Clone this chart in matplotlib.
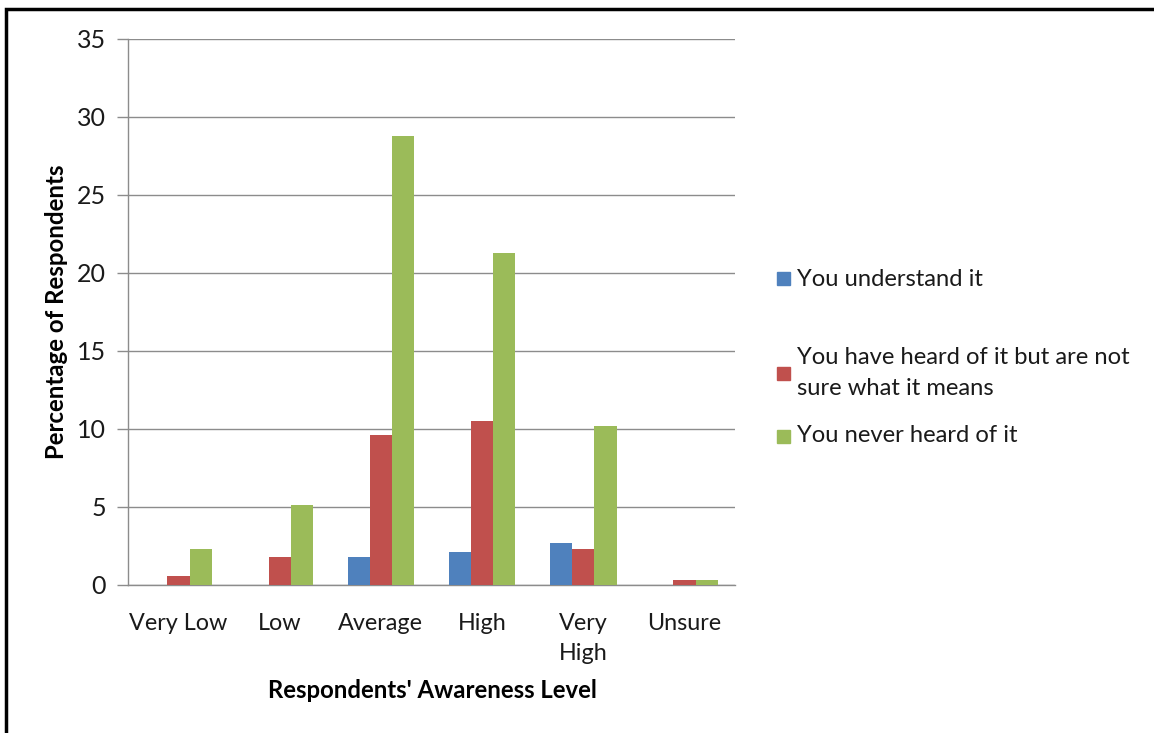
import numpy as np
import matplotlib.pyplot as plt
from matplotlib.patches import Rectangle

plt.rcParams['font.family'] = ['Lato', 'DejaVu Sans']

categories = ['Very Low', 'Low', 'Average', 'High', 'Very\nHigh', 'Unsure']
series_names = ['You understand it',
                'You have heard of it but are not\nsure what it means',
                'You never heard of it']
understand = [0.0, 0.0, 1.8, 2.1, 2.7, 0.0]
heard_not_sure = [0.6, 1.8, 9.6, 10.5, 2.3, 0.3]
never_heard = [2.3, 5.1, 28.8, 21.3, 10.2, 0.3]
colors = ['#4F81BD', '#C0504D', '#9BBB59']

W, H = 1154, 733
fig = plt.figure(figsize=(W / 100, H / 100), dpi=100)
ax = fig.add_axes([128 / W, 1 - 585 / H, (735 - 128) / W, (585 - 39) / H])

x = np.arange(len(categories))
width = 0.22
for i, (vals, c) in enumerate(zip([understand, heard_not_sure, never_heard], colors)):
    ax.bar(x + (i - 1) * width, vals, width, color=c, zorder=3)

ax.set_xlim(-0.5, len(categories) - 0.5)
ax.set_ylim(0, 35)
ax.set_yticks(range(0, 36, 5))
ax.yaxis.grid(True, color='#8c8c8c', linewidth=1.0, zorder=0)
ax.set_xticks(x)
ax.set_xticklabels(categories, fontsize=16.8, color='#1a1a1a', linespacing=1.55)
ax.tick_params(axis='x', length=0, pad=20)
ax.tick_params(axis='y', length=8, width=1, color='#8c8c8c', pad=8,
               labelsize=18, labelcolor='#1a1a1a')
for s in ['top', 'right']:
    ax.spines[s].set_visible(False)
for s in ['left', 'bottom']:
    ax.spines[s].set_color('#8c8c8c')
    ax.spines[s].set_linewidth(1.0)

ax.set_xlabel("Respondents' Awareness Level", fontsize=17.2, fontweight='bold')
ax.set_ylabel('Percentage of Respondents', fontsize=17.3, fontweight='bold')
ax.xaxis.set_label_coords((432 - 128) / 607, (585 - 679) / 546)
ax.yaxis.set_label_coords((68 - 128) / 607, (585 - 312) / 546)

# legend drawn by hand so the uneven Excel spacing can be kept
legend_y = [279, 373, 436]
for name, c, yc in zip(series_names, colors, legend_y):
    fig.patches.append(Rectangle((777 / W, 1 - (yc + 6.5) / H), 13 / W, 13 / H,
                                 transform=fig.transFigure, color=c))
    fig.text(797 / W, 1 - yc / H, name, fontsize=17.1, color='#1a1a1a',
             va='center', ha='left', linespacing=1.6)

# outer frame of the pasted chart
fig.patches.append(Rectangle((6 / W, -0.1), 1.2, 1 - 9 / H + 0.1,
                             transform=fig.transFigure, fill=False,
                             edgecolor='black', linewidth=2.5))

fig.savefig('out.png', dpi=100)
